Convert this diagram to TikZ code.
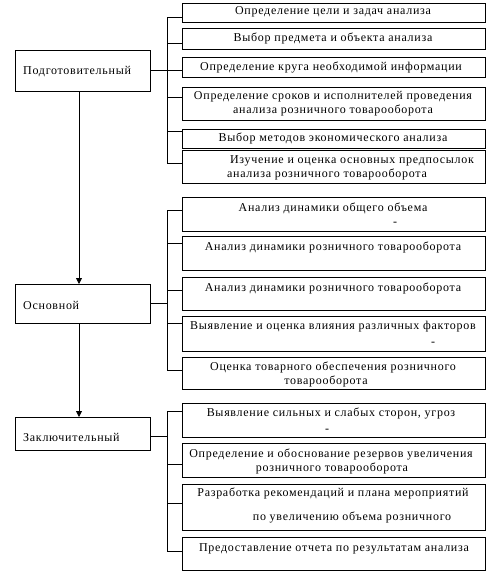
\documentclass[tikz,border=0pt]{standalone}
\usepackage{fontspec}
\setmainfont{Liberation Serif}[LetterSpace=6]
\usetikzlibrary{arrows.meta}
\tikzset{
  box/.style={draw, line width=0.9pt, inner sep=0pt, outer sep=0pt},
  txt/.style={inner sep=0pt, font=\fontsize{12}{13}\selectfont},
  ltxt/.style={txt, anchor=west},
  conn/.style={line width=0.8pt},
  arr/.style={line width=0.8pt, -{Triangle[length=6pt,width=6pt]}},
}
\newcommand\rbox[5]{\node[box, minimum width={(#4-#2)*1pt}, minimum height={(#5-#3)*1pt}] (#1) at ({(#2+#4)/2},{(#3+#5)/2}) {};}
\begin{document}
\begin{tikzpicture}[x=1pt,y=-1pt]
\useasboundingbox (0,0) rectangle (492,573);
% left boxes
\rbox{L1}{15}{50}{150}{91}
\rbox{L2}{15}{284}{150}{323}
\rbox{L3}{15}{417}{150}{450}
\node[ltxt] (tL1) at (23,72) {Подготовительный};
\node[ltxt] (tL2) at (23,305) {Основной};
\node[ltxt] (tL3) at (23,437) {Заключительный};
% group 1
\rbox{r11}{182}{3}{485}{22}
\rbox{r12}{182}{28}{485}{49}
\rbox{r13}{182}{57}{485}{77}
\rbox{r14}{182}{87}{485}{120}
\rbox{r15}{182}{129}{485}{148}
\rbox{r16}{182}{150}{485}{183}
\node[txt] (t11) at (333,12) {Определение цели и задач анализа};
\node[txt] (t12) at (333,38) {Выбор предмета и объекта анализа};
\node[txt] (t13) at (331,67) {Определение круга необходимой информации};
\node[txt] (t14a) at (333,97) {Определение сроков и исполнителей проведения};
\node[txt] (t14b) at (333,110) {анализа розничного товарооборота};
\node[txt] (t15) at (333,138) {Выбор методов экономического анализа};
\node[txt] (t16a) at (352,161) {Изучение и оценка основных предпосылок};
\node[txt] (t16b) at (327,174) {анализа розничного товарооборота};
% group 2
\rbox{r21}{182}{197}{485}{231}
\rbox{r22}{182}{236}{485}{270}
\rbox{r23}{182}{277}{485}{310}
\rbox{r24}{182}{316}{485}{351}
\rbox{r25}{182}{357}{485}{389}
\node[txt] (t21) at (333,208) {Анализ динамики общего объема};
\node[txt] (d21) at (395,224) {-};
\node[txt] (t22) at (333,247) {Анализ динамики розничного товарооборота};
\node[txt] (t23) at (333,288) {Анализ динамики розничного товарооборота};
\node[txt] (t24) at (333,327) {Выявление и оценка влияния различных факторов};
\node[txt] (d24) at (433,344) {-};
\node[txt] (t25a) at (333,367) {Оценка товарного обеспечения розничного};
\node[txt] (t25b) at (326,381) {товарооборота};
% group 3
\rbox{r31}{182}{403}{485}{437}
\rbox{r32}{182}{443}{485}{477}
\rbox{r33}{182}{484}{485}{530}
\rbox{r34}{182}{537}{485}{570}
\node[txt] (t31) at (331,413) {Выявление сильных и слабых сторон, угроз};
\node[txt] (d31) at (327,431) {-};
\node[txt] (t32a) at (331,454) {Определение и обоснование резервов увеличения};
\node[txt] (t32b) at (332,468) {розничного товарооборота};
\node[txt] (t33a) at (333,493) {Разработка рекомендаций и плана мероприятий};
\node[txt] (t33b) at (352,517) {по увеличению объема розничного};
\node[txt] (t34) at (334,549) {Предоставление отчета по результатам анализа};
% buses
\coordinate (j1) at (167,70);
\coordinate (j2) at (167,303);
\coordinate (j3) at (167,436);
\draw[conn] (j1 -| L1.east) -- (j1);
\draw[conn] (j2 -| L2.east) -- (j2);
\draw[conn] (j3 -| L3.east) -- (j3);
\foreach \n/\y in {r11/17,r12/43,r13/70,r14/97,r15/131,r16/163,r21/210,r22/243,r23/290,r24/323,r25/370,r31/411,r32/464,r33/503,r34/551}{
  \coordinate (b\n) at (167,\y);
  \draw[conn] (b\n) -- (b\n -| \n.west);
}
\draw[conn] (br11) -- (br16);
\draw[conn] (br21) -- (br25);
\draw[conn] (br31) -- (br34);
% arrows
\coordinate (a1) at (79,0);
\draw[arr] (a1 |- L1.south) -- (a1 |- L2.north);
\draw[arr] (a1 |- L2.south) -- (a1 |- L3.north);
\end{tikzpicture}
\end{document}
